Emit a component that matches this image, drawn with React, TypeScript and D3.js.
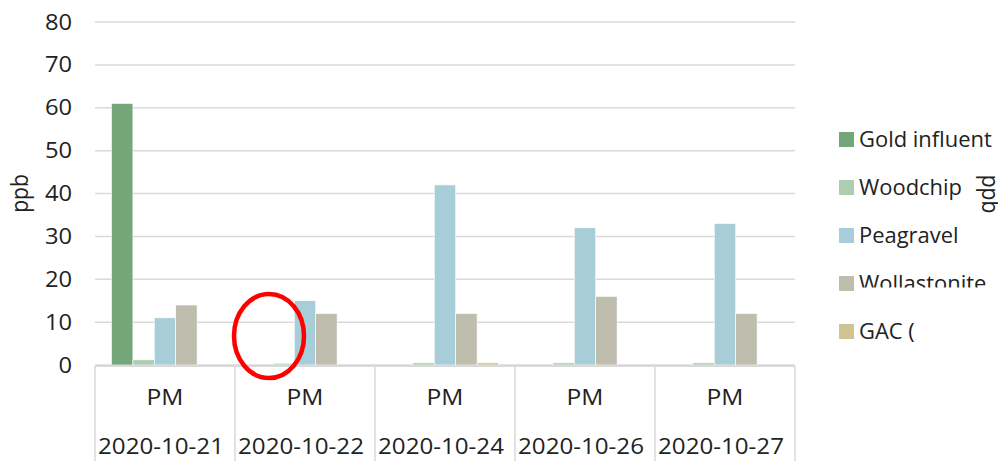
import React from "react";
import * as d3 from "d3";

const categories = ["2020-10-21", "2020-10-22", "2020-10-24", "2020-10-26", "2020-10-27"];
const subLabels = ["PM", "PM", "PM", "PM", "PM"];
const seriesNames = ["Gold influent", "Woodchip", "Peagravel", "Wollastonite", "GAC ("];
const goldInfluent = [61, 0, 0, 0, 0];
const woodchip = [1.2, 0.4, 0.5, 0.5, 0.5];
const peagravel = [11, 15, 42, 32, 33];
const wollastonite = [14, 12, 12, 16, 12];
const gac = [0, 0, 0.5, 0, 0];
const yTicks = [0, 10, 20, 30, 40, 50, 60, 70, 80];
const colors = ["#74a67a", "#aecdb0", "#a7cdd8", "#bfbdae", "#cfc593"];

const seriesValues = [goldInfluent, woodchip, peagravel, wollastonite, gac];

const FONT = "'Open Sans', sans-serif";
const TXT = "#222222";

function SText({ x, y, anchor = "start", rotate = 0, size = 21, sx = 1.13, children }: any) {
  return (
    <text
      transform={`translate(${x},${y}) scale(${sx},1)${rotate ? ` rotate(${rotate})` : ""}`}
      textAnchor={anchor}
      fontFamily={FONT}
      fontSize={size}
      fill={TXT}
    >
      {children}
    </text>
  );
}

export default function App() {
  const W = 998;
  const H = 461;
  const left = 95;
  const right = 795;
  const y = d3.scaleLinear().domain([0, 80]).range([365, 22]);
  const x0 = d3.scaleBand<string>().domain(categories).range([left, right]).padding(0);
  const bw = x0.bandwidth();
  const x1 = d3
    .scaleBand<string>()
    .domain(seriesNames)
    .range([16.5, bw - 16.5])
    .padding(0);

  const legendY = (i: number) => 139.5 + i * 48;

  return (
    <svg width={W} height={H} style={{ position: "absolute", left: 0, top: 0, background: "#fff" }}>
      <defs>
        <clipPath id="wollClip" clipPathUnits="userSpaceOnUse">
          <rect x={850} y={260} width={160} height={27.5} />
        </clipPath>
      </defs>
      <rect x={0} y={0} width={W} height={H} fill="#fff" />
      {yTicks.map((t) => (
        <line key={t} x1={left} x2={right} y1={y(t)} y2={y(t)} stroke="#d9d9d9" strokeWidth={1.5} />
      ))}
      {yTicks.map((t) => (
        <SText key={"l" + t} x={72} y={y(t) + 7.5} anchor="end">
          {t}
        </SText>
      ))}
      {categories.map((c, ci) => (
        <g key={c} transform={`translate(${x0(c)},0)`}>
          {seriesNames.map((s, si) => {
            const v = seriesValues[si][ci];
            if (!v) return null;
            return (
              <rect
                key={s}
                x={x1(s)}
                y={y(v)}
                width={x1.bandwidth()}
                height={y(0) - y(v)}
                fill={colors[si]}
                stroke="#ffffff"
                strokeWidth={0.6}
              />
            );
          })}
        </g>
      ))}
      <line x1={left} x2={right} y1={366} y2={366} stroke="#d9d9d9" strokeWidth={2} />
      {[...categories.map((c) => x0(c) as number), right].map((xv, i) => (
        <line key={"v" + i} x1={xv} x2={xv} y1={366} y2={H} stroke="#d9d9d9" strokeWidth={1.5} />
      ))}
      {categories.map((c, i) => (
        <g key={"x" + c}>
          <SText x={(x0(c) as number) + bw / 2} y={405} anchor="middle" sx={1.17}>
            {subLabels[i]}
          </SText>
          <SText x={(x0(c) as number) + bw / 2 - 4} y={454} anchor="middle" sx={1.15}>
            {c}
          </SText>
        </g>
      ))}
      <SText x={28} y={193.5} anchor="middle" rotate={-90}>
        ppb
      </SText>
      <SText x={982} y={194} anchor="middle" rotate={90}>
        ppb
      </SText>
      {seriesNames.map((s, i) => (
        <g key={"lg" + s}>
          <rect x={839} y={legendY(i) - 7.5} width={15} height={15} fill={colors[i]} />
          <g clipPath={i === 3 ? "url(#wollClip)" : undefined}>
            <SText x={859} y={legendY(i) + 7.5} sx={1.045}>
              {s}
            </SText>
          </g>
        </g>
      ))}
      <ellipse cx={269} cy={336} rx={35} ry={42} fill="none" stroke="#ff0000" strokeWidth={4.5} />
    </svg>
  );
}
